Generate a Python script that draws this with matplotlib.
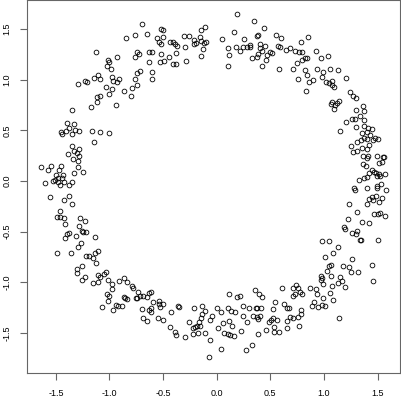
import numpy as np
import matplotlib
matplotlib.use("Agg")
import matplotlib.pyplot as plt

# points, grouped by part of the ring (x, y)
upper_left = [
    (-0.70, 1.55), (-0.85, 1.41), (-0.766, 1.44), (-0.647, 1.447), (-1.129, 1.273),
    (-0.933, 1.224), (-0.741, 1.276), (-0.759, 1.227), (-0.728, 1.25), (-0.632, 1.27),
    (-1.014, 1.194), (-1.008, 1.171), (-1.027, 1.135), (-0.983, 1.105), (-0.635, 1.178),
    (-1.291, 0.954), (-1.226, 0.99), (-1.207, 0.977), (-1.145, 1.013), (-1.104, 1.049),
    (-1.089, 1.01), (-0.977, 1.023), (-0.965, 0.987), (-0.930, 0.974), (-0.909, 1.01),
    (-0.747, 1.069), (-0.713, 1.089), (-0.759, 1.01), (-0.744, 0.951), (-0.793, 0.915),
    (-1.033, 0.928), (-0.974, 0.911), (-0.862, 0.891), (-1.002, 0.855), (-0.803, 0.842),
    (-1.117, 0.832), (-1.092, 0.842), (-1.117, 0.78), (-1.173, 0.727), (-0.937, 0.75),
    (-1.353, 0.704), (-1.40, 0.572), (-1.331, 0.566),
]

top = [
    (0.193, 1.648), (0.351, 1.576), (0.445, 1.513), (0.165, 1.474), (0.379, 1.434),
    (0.389, 1.441), (-0.522, 1.5), (-0.504, 1.49), (-0.56, 1.408), (-0.498, 1.421),
    (-0.538, 1.375), (-0.516, 1.352), (-0.606, 1.276), (-0.519, 1.257), (-0.526, 1.171),
    (-0.494, 1.184), (-0.445, 1.227), (-0.432, 1.375), (-0.407, 1.375), (-0.389, 1.349),
    (-0.367, 1.332), (-0.376, 1.267), (-0.404, 1.151), (-0.383, 1.158), (-0.302, 1.431),
    (-0.258, 1.428), (-0.299, 1.326), (-0.286, 1.181), (-0.208, 1.392), (-0.208, 1.352),
    (-0.19, 1.365), (-0.155, 1.424), (-0.146, 1.487), (-0.112, 1.517), (-0.146, 1.385),
    (-0.121, 1.359), (-0.096, 1.369), (-0.124, 1.299), (-0.143, 1.237), (0.05, 1.398),
    (0.109, 1.316), (0.112, 1.247), (0.109, 1.135), (0.183, 1.319), (0.215, 1.283),
    (0.258, 1.401), (0.249, 1.319), (0.28, 1.322), (0.308, 1.342), (0.314, 1.326),
    (0.333, 1.214), (0.404, 1.349), (0.404, 1.309), (0.42, 1.286), (0.451, 1.336),
    (0.389, 1.257), (0.379, 1.224), (0.473, 1.243), (0.46, 1.194), (0.423, 1.135),
    (0.494, 1.276), (-0.603, 1.079), (-0.603, 1.007),
]

upper_right = [
    (0.553, 1.441), (0.6, 1.408), (0.575, 1.332), (0.59, 1.319), (0.646, 1.293),
    (0.684, 1.309), (0.733, 1.283), (0.771, 1.276), (0.796, 1.276), (0.513, 1.267),
    (0.789, 1.372), (0.855, 1.418), (0.926, 1.283), (0.973, 1.217), (1.041, 1.234),
    (0.749, 1.161), (0.796, 1.191), (0.82, 1.217), (0.845, 1.211), (0.584, 1.102),
    (0.715, 1.102), (0.827, 1.092), (0.839, 1.046), (0.932, 1.102), (0.995, 1.079),
    (1.057, 1.109), (1.128, 1.092), (0.758, 1.007), (0.861, 0.98), (0.901, 0.993),
    (0.985, 1.023), (1.019, 0.98), (1.05, 0.967), (1.072, 0.987), (1.079, 0.947),
    (1.091, 0.928), (1.209, 1.016), (0.833, 0.885), (1.247, 0.875), (1.268, 0.842),
    (1.303, 0.816), (1.075, 0.783), (1.069, 0.763), (1.125, 0.773), (1.144, 0.789),
    (1.103, 0.75), (1.097, 0.707), (1.368, 0.743), (1.374, 0.694), (1.303, 0.701),
    (1.209, 0.579), (1.262, 0.609), (1.293, 0.615), (1.334, 0.641), (1.377, 0.605),
]

left = [
    (-1.456, 0.481), (-1.44, 0.464), (-1.406, 0.494), (-1.375, 0.52), (-1.353, 0.461),
    (-1.322, 0.504), (-1.288, 0.491), (-1.16, 0.497), (-1.089, 0.481), (-1.005, 0.477),
    (-1.145, 0.382), (-1.347, 0.346), (-1.282, 0.313), (-1.328, 0.296), (-1.387, 0.27),
    (-1.303, 0.273), (-1.285, 0.247), (-1.341, 0.217), (-1.297, 0.198), (-1.642, 0.135),
    (-1.571, 0.112), (-1.546, 0.145), (-1.475, 0.109), (-1.456, 0.145), (-1.291, 0.135),
    (-1.244, 0.092), (-1.328, 0.083), (-1.5, 0.06), (-1.431, 0.06), (-1.484, 0.033),
    (-1.447, 0.027), (-1.524, 0.004), (-1.512, 0.007), (-1.478, -0.013), (-1.422, -0.006),
    (-1.462, -0.039), (-1.378, -0.039), (-1.347, -0.013), (-1.602, -0.016), (-1.555, -0.158),
    (-1.425, -0.191), (-1.375, -0.144), (-1.35, -0.223), (-1.459, -0.296), (-1.493, -0.358),
    (-1.465, -0.358), (-1.425, -0.362), (-1.412, -0.427), (-1.275, -0.368), (-1.226, -0.398),
    (-1.282, -0.444), (-1.26, -0.493), (-1.223, -0.506), (-1.251, -0.506), (-1.394, -0.523),
    (-1.375, -0.516), (-1.415, -0.559), (-1.313, -0.543), (-1.136, -0.552), (-1.266, -0.612),
]

right = [
    (1.15, 0.494), (1.302, 0.53), (1.374, 0.54), (1.414, 0.527), (1.452, 0.514),
    (1.358, 0.471), (1.399, 0.481), (1.43, 0.454), (1.374, 0.421), (1.405, 0.415),
    (1.461, 0.405), (1.477, 0.428), (1.508, 0.415), (1.343, 0.405), (1.306, 0.382),
    (1.253, 0.349), (1.312, 0.296), (1.268, 0.283), (1.355, 0.323), (1.399, 0.316),
    (1.424, 0.356), (1.368, 0.25), (1.414, 0.25), (1.405, 0.224), (1.498, 0.25),
    (1.554, 0.234), (1.564, 0.24), (1.368, 0.165), (1.393, 0.152), (1.517, 0.181),
    (1.542, 0.185), (1.449, 0.109), (1.467, 0.092), (1.418, 0.076), (1.405, 0.043),
    (1.374, 0.027), (1.33, 0.01), (1.486, 0.076), (1.498, 0.053), (1.517, 0.066),
    (1.523, 0.046), (1.573, 0.069), (1.536, -0.033), (1.498, -0.046), (1.579, -0.092),
    (1.498, -0.066), (1.281, -0.066), (1.293, -0.092), (1.405, -0.072), (1.449, -0.154),
    (1.486, -0.144), (1.542, -0.164), (1.418, -0.177), (1.461, -0.187), (1.511, -0.21),
    (1.405, -0.23), (1.231, -0.23), (1.312, -0.309), (1.47, -0.329), (1.508, -0.322),
    (1.523, -0.319), (1.573, -0.342), (1.225, -0.375), (1.355, -0.401), (1.418, -0.414),
    (1.187, -0.45), (1.2, -0.473), (1.265, -0.516), (1.312, -0.493), (1.299, -0.526),
    (1.343, -0.582), (1.334, -0.582), (0.982, -0.589), (1.044, -0.589), (1.505, -0.585),
]

lower_left = [
    (-1.487, -0.714), (-1.363, -0.708), (-1.297, -0.655), (-1.22, -0.744), (-1.188, -0.737),
    (-1.151, -0.764), (-1.136, -0.714), (-1.104, -0.691), (-1.126, -0.81), (-1.257, -0.843),
    (-1.307, -0.869), (-1.307, -0.905), (-1.254, -0.974), (-1.226, -0.951), (-1.108, -0.928),
    (-1.089, -0.945), (-1.052, -0.915), (-1.033, -0.895), (-1.157, -1.004), (-1.104, -1.0),
    (-1.011, -0.974), (-0.98, -1.02), (-0.977, -1.066), (-1.02, -1.119), (-1.008, -1.135),
    (-1.014, -1.185), (-1.067, -1.241), (-0.968, -1.27), (-0.94, -1.224), (-0.921, -1.231),
    (-0.884, -1.234), (-0.909, -0.987), (-0.865, -0.961), (-0.837, -0.994), (-0.787, -1.033),
    (-0.778, -1.06), (-0.731, -1.093), (-0.862, -1.142), (-0.853, -1.158), (-0.84, -1.165),
    (-0.753, -1.158), (-0.741, -1.152), (-0.716, -1.132), (-0.685, -1.132), (-0.653, -1.148),
    (-0.635, -1.102), (-0.694, -1.267), (-0.691, -1.356), (-0.647, -1.382), (-0.629, -1.274),
]

bottom = [
    (-0.616, -1.099), (-0.591, -1.198), (-0.541, -1.185), (-0.535, -1.211), (-0.529, -1.244),
    (-0.504, -1.211), (-0.61, -1.251), (-0.61, -1.297), (-0.547, -1.349), (-0.501, -1.369),
    (-0.426, -1.297), (-0.435, -1.438), (-0.389, -1.494), (-0.379, -1.52), (-0.358, -1.237),
    (-0.355, -1.244), (-0.292, -1.537), (-0.258, -1.395), (-0.215, -1.257), (-0.14, -1.231),
    (-0.112, -1.28), (-0.134, -1.316), (-0.149, -1.349), (-0.165, -1.389), (-0.155, -1.428),
    (-0.187, -1.428), (-0.218, -1.448), (-0.199, -1.441), (-0.171, -1.504), (-0.218, -1.514),
    (-0.106, -1.504), (-0.059, -1.57), (-0.04, -1.336), (-0.059, -1.369), (0.0, -1.257),
    (0.044, -1.29), (0.056, -1.402), (0.009, -1.455), (0.068, -1.504), (0.103, -1.257),
    (0.131, -1.283), (0.112, -1.382), (0.14, -1.435), (0.109, -1.514), (0.127, -1.52),
    (0.162, -1.53), (0.168, -1.29), (0.112, -1.119), (0.19, -1.148), (0.221, -1.139),
    (0.249, -1.234), (0.299, -1.251), (0.249, -1.33), (0.286, -1.389), (0.23, -1.481),
    (0.037, -1.658), (-0.075, -1.74), (0.361, -1.076), (0.392, -1.112), (0.423, -1.148),
    (0.367, -1.257), (0.379, -1.251), (0.417, -1.251), (0.336, -1.33), (0.373, -1.339),
    (0.389, -1.362), (0.404, -1.33), (0.389, -1.514), (0.33, -1.619), (0.274, -1.672),
    (0.46, -1.468), (0.491, -1.389),
]

lower_right = [
    (1.135, -0.648), (1.088, -0.714), (1.007, -0.747), (1.259, -0.773), (1.044, -0.836),
    (1.066, -0.829), (1.175, -0.836), (1.231, -0.852), (1.256, -0.895), (1.315, -0.895),
    (1.032, -0.889), (1.069, -0.935), (0.973, -0.935), (0.979, -0.954), (0.97, -0.977),
    (1.147, -0.948), (1.169, -0.987), (1.135, -1.01), (1.075, -1.04), (1.194, -1.047),
    (0.995, -1.02), (1.449, -0.826), (1.455, -0.984), (0.609, -1.06), (0.715, -1.06),
    (0.74, -1.027), (0.761, -1.06), (0.73, -1.119), (0.708, -1.132), (0.777, -1.093),
    (0.796, -1.119), (0.867, -1.06), (0.926, -1.066), (0.932, -1.119), (1.057, -1.109),
    (1.082, -1.175), (0.995, -1.158), (0.911, -1.198), (0.886, -1.234), (0.942, -1.244),
    (0.979, -1.224), (1.007, -1.234), (0.547, -1.191), (0.628, -1.218), (0.653, -1.251),
    (0.671, -1.251), (0.528, -1.267), (0.783, -1.274), (0.789, -1.316), (0.758, -1.339),
    (0.708, -1.356), (0.684, -1.343), (0.659, -1.382), (0.771, -1.435), (0.659, -1.448),
    (0.528, -1.349), (0.503, -1.369), (0.559, -1.375), (0.534, -1.441), (0.534, -1.494),
    (0.584, -1.494), (1.138, -1.356),
]

ticks = [-1.5, -1.0, -0.5, 0.0, 0.5, 1.0, 1.5]

pts = np.array(upper_left + top + upper_right + left + right
               + lower_left + bottom + lower_right)

fig = plt.figure(figsize=(4.01, 4.01), dpi=100)
# box runs almost to the top and right edges, like R's plot with small margins
ax = fig.add_axes([0.0666, 0.0690, 0.9297, 0.9298])
ax.plot(pts[:, 0], pts[:, 1], "o", mfc="none", mec="black",
        ms=3.4, mew=0.6, ls="none")

ax.set_xlim(-1.772, 1.705)
ax.set_ylim(-1.898, 1.782)
ax.set_xticks(ticks)
ax.set_yticks(ticks)
ax.set_xticklabels([f"{t:.1f}" for t in ticks])
ax.set_yticklabels([f"{t:.1f}" for t in ticks], rotation=90, va="center")

for s in ax.spines.values():
    s.set_color("0.4")
    s.set_linewidth(0.8)
ax.tick_params(direction="out", length=5, width=0.8, color="0.4",
               labelsize=6.5, pad=6)
for lab in ax.get_xticklabels() + ax.get_yticklabels():
    lab.set_family(["Liberation Sans", "DejaVu Sans"])

fig.savefig("out.png", dpi=100)
